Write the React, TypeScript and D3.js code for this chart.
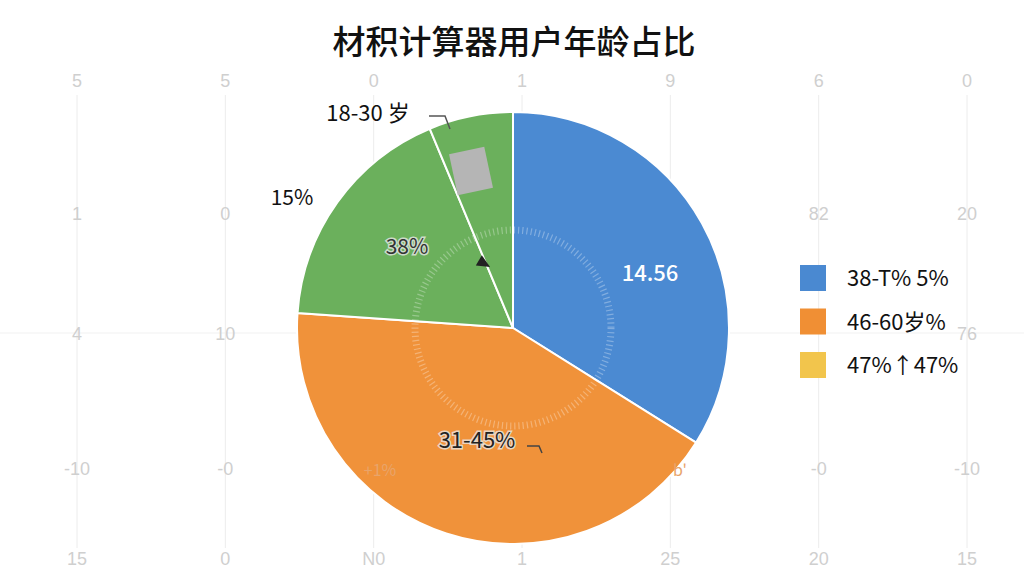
import { useEffect, useRef } from 'react';
import * as d3 from 'd3';

// slices, clockwise from 12 o'clock
const sliceNames = ['蓝', '橙', '绿A', '绿B'];
const sliceValues = [33.9, 42.2, 17.6, 6.3];
const sliceColours = ['#4b8ad2', '#f0923a', '#6bb05c', '#6bb05c'];

const legendLabels = ['38-T% 5%', '46-60岁%', '47%↑47%'];
const legendColours = ['#4a89d1', '#f08f34', '#f2c54c'];

// faint background grid labels (rows top to bottom)
const gridRows = [
  ['5', '5', '0', '1', '9', '6', '0'],
  ['1', '0', '', '', '', '82', '20'],
  ['4', '10', '', '', '', '', '76'],
  ['-10', '-0', '', '', '', '-0', '-10'],
  ['15', '0', 'N0', '1', '25', '20', '15'],
];
const gridColumns = [0, 1, 2, 3, 4, 5, 6];
const gridRowIdx = [0, 1, 2, 3, 4];

const title = '材积计算器用户年龄占比';
const font = "'Noto Sans CJK SC', 'Noto Sans', sans-serif";

export default function App() {
  const svgRef = useRef<SVGSVGElement>(null);
  const width = 1024;
  const height = 576;

  useEffect(() => {
    if (!svgRef.current) return;
    const svg = d3.select(svgRef.current);
    svg.selectAll('*').remove();

    svg.append('rect').attr('width', width).attr('height', height).attr('fill', '#ffffff');

    // background grid
    const x = d3.scalePoint<number>().domain(gridColumns).range([77, 967]);
    const y = d3.scaleOrdinal<number, number>().domain(gridRowIdx).range([80, 213, 333, 468, 558]);

    const grid = svg.append('g');
    grid
      .selectAll('line.v')
      .data(gridColumns)
      .join('line')
      .attr('class', 'v')
      .attr('x1', (d) => x(d)!)
      .attr('x2', (d) => x(d)!)
      .attr('y1', 95)
      .attr('y2', 548)
      .attr('stroke', '#ececec')
      .attr('stroke-width', 1);
    grid
      .append('line')
      .attr('x1', 0)
      .attr('x2', width)
      .attr('y1', 333)
      .attr('y2', 333)
      .attr('stroke', '#f1f1f1');

    gridRows.forEach((row, ri) => {
      grid
        .selectAll(`text.r${ri}`)
        .data(row)
        .join('text')
        .attr('class', `r${ri}`)
        .attr('x', (_, i) => x(i)!)
        .attr('y', y(ri) + 7)
        .attr('text-anchor', 'middle')
        .attr('font-family', "'Liberation Sans', Arial, sans-serif")
        .attr('font-size', 18)
        .attr('fill', '#cfcfcf')
        .text((d) => d);
    });

    // title
    svg
      .append('text')
      .attr('x', 514)
      .attr('y', 54)
      .attr('text-anchor', 'middle')
      .attr('font-family', font)
      .attr('font-size', 33)
      .attr('font-weight', 500)
      .attr('fill', '#111')
      .text(title);

    // pie
    const cx = 513;
    const cy = 328;
    const r = 216;
    const pie = d3
      .pie<number>()
      .sort(null)
      .value((d) => d);
    const arc = d3.arc<d3.PieArcDatum<number>>().innerRadius(0).outerRadius(r);
    const arcs = pie(sliceValues);

    const g = svg.append('g').attr('transform', `translate(${cx},${cy})`);
    g.selectAll('path')
      .data(arcs)
      .join('path')
      .attr('d', arc)
      .attr('fill', (_, i) => sliceColours[i])
      .attr('stroke', '#ffffff')
      .attr('stroke-width', 2)
      .attr('data-name', (_, i) => sliceNames[i]);

    // dotted inner ring
    g.append('circle')
      .attr('r', 98)
      .attr('fill', 'none')
      .attr('stroke', '#ffffff')
      .attr('stroke-opacity', 0.3)
      .attr('stroke-width', 7)
      .attr('stroke-dasharray', '1.2 3');

    // grey box in the small green slice
    g.append('rect')
      .attr('x', -60)
      .attr('y', -178)
      .attr('width', 36)
      .attr('height', 42)
      .attr('transform', 'rotate(-12,-42,-157)')
      .attr('fill', '#b5b5b5');

    // arrow head on split line
    const split = arcs[3].startAngle;
    const ax = Math.sin(split) * 70;
    const ay = -Math.cos(split) * 70;
    g.append('path')
      .attr('d', 'M-6,-6 L6,-6 L0,7 Z')
      .attr('transform', `translate(${ax - 2},${ay}) rotate(-60)`)
      .attr('fill', '#222');

    // labels
    const label = (
      tx: number,
      ty: number,
      text: string,
      size: number,
      fill: string,
      opts: { halo?: boolean; anchor?: string; weight?: number } = {}
    ) => {
      const t = svg
        .append('text')
        .attr('x', tx)
        .attr('y', ty)
        .attr('text-anchor', opts.anchor ?? 'middle')
        .attr('font-family', font)
        .attr('font-size', size)
        .attr('font-weight', opts.weight ?? 400)
        .attr('fill', fill)
        .text(text);
      if (opts.halo) {
        t.attr('stroke', '#e8e8e8')
          .attr('stroke-width', 3)
          .attr('stroke-opacity', 0.8)
          .attr('paint-order', 'stroke');
      }
    };

    label(368, 121, '18-30 岁', 22, '#111');
    label(292, 205, '15%', 21, '#111');
    label(407, 254, '38%', 21, '#333', { halo: true });
    label(650, 281, '14.56', 22, '#ffffff', { weight: 500 });
    label(477, 448, '31-45%', 22, '#222', { halo: true });
    label(380, 476, '+1%', 16, '#e8a46a');
    label(680, 476, "b'", 16, '#e8a46a');

    const leader = d3.line();
    svg
      .append('path')
      .attr('d', leader([[429, 116], [445, 116], [450, 129]]))
      .attr('fill', 'none')
      .attr('stroke', '#555')
      .attr('stroke-width', 1.5);
    svg
      .append('path')
      .attr('d', leader([[527, 446], [539, 446], [542, 453]]))
      .attr('fill', 'none')
      .attr('stroke', '#444')
      .attr('stroke-width', 1.5);

    // legend
    const legend = svg.append('g');
    const ly = d3.scalePoint<number>().domain([0, 1, 2]).range([278, 365]);
    legendLabels.forEach((name, i) => {
      legend
        .append('rect')
        .attr('x', 800)
        .attr('y', ly(i)! - 13)
        .attr('width', 26)
        .attr('height', 26)
        .attr('fill', legendColours[i]);
      legend
        .append('text')
        .attr('x', 847)
        .attr('y', ly(i)! + 8)
        .attr('font-family', font)
        .attr('font-size', 22)
        .attr('fill', '#111')
        .text(name);
    });
  }, []);

  return (
    <div style={{ position: 'fixed', left: 0, top: 0 }}>
      <svg ref={svgRef} width={width} height={height} style={{ display: 'block' }} />
    </div>
  );
}
